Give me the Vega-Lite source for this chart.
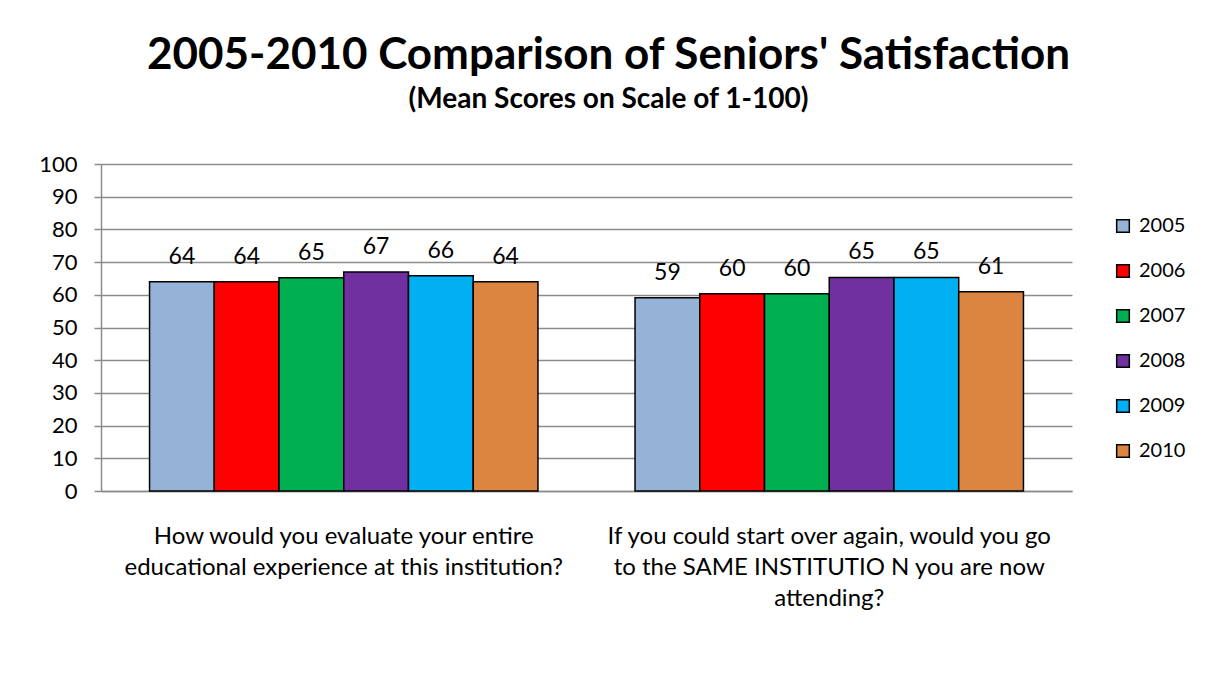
{
  "$schema": "https://vega.github.io/schema/vega-lite/v6.json",
  "width": 971,
  "height": 327,
  "autosize": {"type": "none"},
  "padding": {"left": 101, "top": 164, "right": 137, "bottom": 182},
  "background": "white",
  "config": {"font": "Lato", "view": {"stroke": null}},
  "title": {
    "text": "2005-2010 Comparison of Seniors' Satisfaction",
    "subtitle": "(Mean Scores on Scale of 1-100)",
    "font": "Lato",
    "subtitleFont": "Lato",
    "fontSize": 44,
    "fontWeight": "bold",
    "color": "#000000",
    "subtitleFontSize": 28,
    "subtitleFontWeight": "bold",
    "subtitleColor": "#000000",
    "subtitlePadding": 8,
    "anchor": "middle",
    "frame": "group",
    "dx": 22,
    "offset": 39
  },
  "data": {
    "values": [
      {"question": "How would you evaluate your entire|educational experience at this institution?", "year": "2005", "score": 64.0},
      {"question": "How would you evaluate your entire|educational experience at this institution?", "year": "2006", "score": 64.0},
      {"question": "How would you evaluate your entire|educational experience at this institution?", "year": "2007", "score": 65.2},
      {"question": "How would you evaluate your entire|educational experience at this institution?", "year": "2008", "score": 67.0},
      {"question": "How would you evaluate your entire|educational experience at this institution?", "year": "2009", "score": 65.8},
      {"question": "How would you evaluate your entire|educational experience at this institution?", "year": "2010", "score": 64.0},
      {"question": "If you could start over again, would you go|to the SAME INSTITUTIO N  you are now|attending?", "year": "2005", "score": 59.1},
      {"question": "If you could start over again, would you go|to the SAME INSTITUTIO N  you are now|attending?", "year": "2006", "score": 60.3},
      {"question": "If you could start over again, would you go|to the SAME INSTITUTIO N  you are now|attending?", "year": "2007", "score": 60.3},
      {"question": "If you could start over again, would you go|to the SAME INSTITUTIO N  you are now|attending?", "year": "2008", "score": 65.3},
      {"question": "If you could start over again, would you go|to the SAME INSTITUTIO N  you are now|attending?", "year": "2009", "score": 65.3},
      {"question": "If you could start over again, would you go|to the SAME INSTITUTIO N  you are now|attending?", "year": "2010", "score": 60.9}
    ]
  },
  "encoding": {
    "x": {
      "field": "question",
      "type": "nominal",
      "sort": null,
      "title": null,
      "scale": {"paddingInner": 0.2, "paddingOuter": 0.1},
      "axis": {
        "labelAngle": 0,
        "labelExpr": "split(datum.label, '|')",
        "labelFontSize": 24,
        "labelLineHeight": 31,
        "labelColor": "#000000",
        "labelPadding": 33,
        "labelLimit": 600,
        "ticks": false,
        "domainColor": "#8c8c8c",
        "domainWidth": 1.5
      }
    },
    "xOffset": {
      "field": "year",
      "type": "nominal",
      "scale": {"paddingInner": 0, "paddingOuter": 0}
    },
    "y": {
      "field": "score",
      "type": "quantitative",
      "title": null,
      "scale": {"domain": [0, 100], "nice": false},
      "axis": {
        "values": [0, 10, 20, 30, 40, 50, 60, 70, 80, 90, 100],
        "labelFontSize": 22,
        "labelColor": "#000000",
        "labelPadding": 17,
        "tickSize": 7,
        "tickColor": "#8c8c8c",
        "tickWidth": 1.5,
        "gridColor": "#8c8c8c",
        "gridWidth": 1.5,
        "domainColor": "#8c8c8c",
        "domainWidth": 1.5
      }
    }
  },
  "layer": [
    {
      "mark": {"type": "bar", "stroke": "#000000", "strokeWidth": 1.5},
      "encoding": {
        "color": {
          "field": "year",
          "type": "nominal",
          "title": null,
          "scale": {
            "domain": ["2005", "2006", "2007", "2008", "2009", "2010"],
            "range": ["#95b3d7", "#ff0000", "#00b050", "#7030a0", "#00b0f0", "#dc8540"]
          },
          "legend": {
            "orient": "none",
            "legendX": 1012,
            "legendY": 52,
            "symbolType": "square",
            "symbolSize": 160,
            "symbolStrokeColor": "#000000",
            "symbolStrokeWidth": 1.5,
            "symbolOpacity": 1,
            "labelFontSize": 20,
            "labelColor": "#000000",
            "labelOffset": 6,
            "rowPadding": 25
          }
        }
      }
    },
    {
      "mark": {"type": "text", "baseline": "alphabetic", "dy": -18, "fontSize": 23, "color": "#000000"},
      "encoding": {
        "text": {"field": "score", "type": "quantitative", "format": ".0f"}
      }
    }
  ]
}
